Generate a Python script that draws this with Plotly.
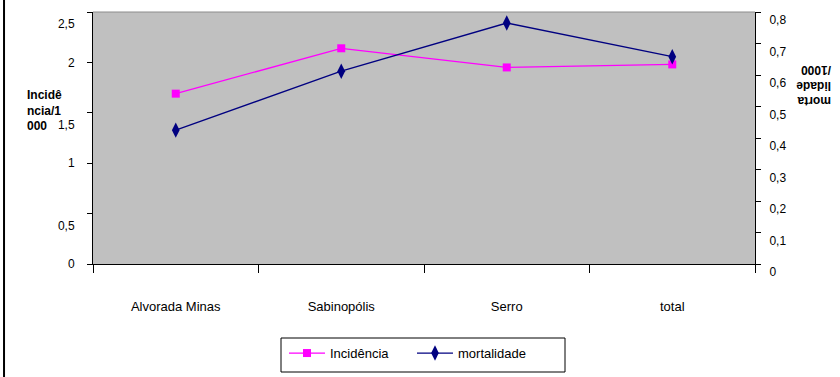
import plotly.graph_objects as go

categories = ["Alvorada Minas", "Sabinopólis", "Serro", "total"]
incidencia = [1.69, 2.14, 1.95, 1.98]
mortalidade = [0.425, 0.612, 0.765, 0.658]
left_ticks = [0, 0.5, 1, 1.5, 2, 2.5]
left_tick_labels = ["0", "0,5", "1", "1,5", "2", "2,5"]
right_ticks = [0, 0.1, 0.2, 0.3, 0.4, 0.5, 0.6, 0.7, 0.8]

xpos = list(range(len(categories)))
FONT = "Liberation Sans, Arial, sans-serif"

# Excel drew the half-unit labels a little below their ticks: split them onto an overlay axis
whole_vals = [v for v in left_ticks if v % 1 == 0]
whole_text = [t for v, t in zip(left_ticks, left_tick_labels) if v % 1 == 0]
half_vals = [v for v in left_ticks if v % 1]
half_text = [t for v, t in zip(left_ticks, left_tick_labels) if v % 1]

fig = go.Figure()
fig.add_trace(go.Scatter(
    x=xpos, y=incidencia, name="Incidência", mode="lines+markers",
    line=dict(color="#FF00FF", width=1.3),
    marker=dict(symbol="square", size=8, color="#FF00FF"),
    yaxis="y"))
fig.add_trace(go.Scatter(
    x=xpos, y=mortalidade, name="mortalidade", mode="lines+markers",
    line=dict(color="#000080", width=1.3),
    marker=dict(symbol="diamond-tall", size=11, color="#000080"),
    yaxis="y2"))

fig.update_layout(
    width=840, height=377,
    margin=dict(l=93, r=85, t=12, b=113, autoexpand=False),
    paper_bgcolor="white", plot_bgcolor="#C0C0C0",
    separators=", ",
    font=dict(family=FONT, size=13, color="black"),
    showlegend=True,
    legend=dict(orientation="h", x=0.2885, xanchor="left", y=-0.294, yanchor="top",
                borderwidth=0, bgcolor="rgba(0,0,0,0)",
                font=dict(size=13), entrywidth=77, itemwidth=36),
    xaxis=dict(range=[-0.5, 3.5], tickvals=xpos, ticktext=categories,
               ticks="", showgrid=False, zeroline=False, automargin=False,
               showline=True, linecolor="black", linewidth=1,
               ticklabelstandoff=30,
               minor=dict(tick0=-0.5, dtick=1, ticks="outside", ticklen=8,
                          tickcolor="black", showgrid=False)),
    yaxis=dict(range=[0, 2.5], tickvals=whole_vals, ticktext=whole_text,
               showgrid=False, zeroline=False,
               showline=True, linecolor="black", linewidth=1, automargin=False,
               ticks="outside", ticklen=5, tickcolor="black",
               ticklabelstandoff=10, tickfont=dict(size=12)),
    yaxis3=dict(range=[0, 2.5], tickvals=half_vals, ticktext=half_text,
                overlaying="y", side="left",
                showgrid=False, zeroline=False, showline=False, automargin=False,
                ticks="outside", ticklen=5, tickcolor="black",
                ticklabelstandoff=10, ticklabelshift=12, tickfont=dict(size=12)),
    yaxis2=dict(range=[0, 0.8], tickvals=right_ticks, overlaying="y", side="right",
                showgrid=False, zeroline=False, automargin=False,
                showline=True, linecolor="black", linewidth=1,
                ticks="outside", ticklen=5, tickcolor="black",
                ticklabelstandoff=6, ticklabelshift=8, tickfont=dict(size=12)),
)

# invisible trace so the overlay axis for half-unit labels is drawn
fig.add_trace(go.Scatter(x=[None], y=[None], yaxis="y3", showlegend=False, hoverinfo="skip"))

fig.add_annotation(text="<b>Incidê<br>ncia/1<br>000</b>", xref="paper", yref="paper",
                   x=-0.1027, y=0.611, xanchor="left", yanchor="middle",
                   align="left", showarrow=False, font=dict(size=12))
fig.add_annotation(text="<b>morta<br>lidade<br>/1000</b>", xref="paper", yref="paper",
                   x=1.0876, y=0.706, xanchor="center", yanchor="middle",
                   align="left", textangle=180, showarrow=False, font=dict(size=12))

# plot-area top border, legend frame and chart-area left frame line
fig.add_shape(type="line", xref="paper", yref="paper", x0=0, x1=1, y0=1, y1=1,
              line=dict(color="#8C8C8C", width=1))
fig.add_shape(type="rect", xref="paper", yref="paper", x0=0.284, x1=0.713,
              y0=-0.4286, y1=-0.2937, line=dict(color="black", width=1),
              fillcolor="white", layer="below")
fig.add_shape(type="line", xref="paper", yref="paper", x0=-0.1344, x1=-0.1344,
              y0=-0.5, y1=1.1, line=dict(color="black", width=2))

fig.write_html("out.html", config={"displayModeBar": False},
               post_script="document.body.style.margin='0';")
